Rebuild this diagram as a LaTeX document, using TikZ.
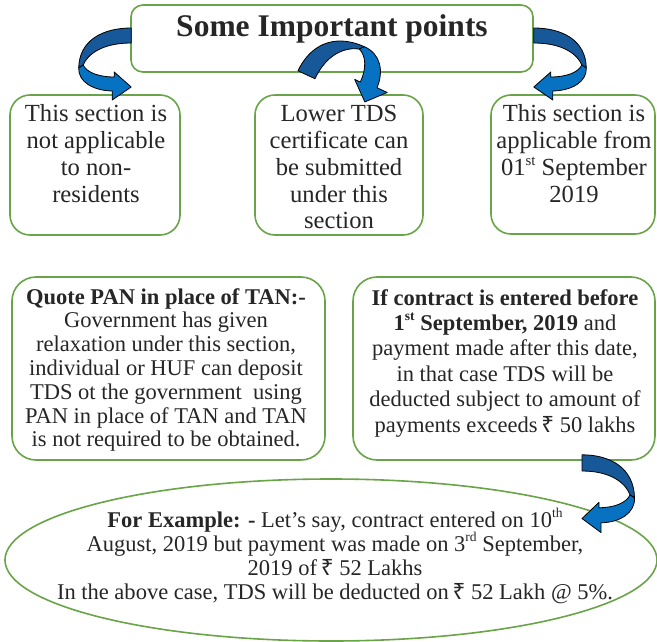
\documentclass[tikz,border=0pt]{standalone}
\usepackage{fontspec}
\usepackage{graphicx}
\setmainfont{Liberation Serif}
\newfontfamily\rupeefont{Noto Sans}
\usetikzlibrary{shapes.geometric,calc}

\definecolor{boxgreen}{RGB}{106,164,72}
\definecolor{arrowdark}{RGB}{22,88,152}
\definecolor{arrowlight}{RGB}{6,114,193}
\definecolor{ink}{RGB}{38,38,38}

% centred lines whose baseline is the first line
\newcommand\stacklines[1]{\vtop{\halign{\hfil##\hfil\cr#1\crcr}}}
\newcommand\sups[1]{\raisebox{.42em}{\scalebox{.6}{#1}}}
\newcommand\rupee{{\rupeefont\mdseries ₹}}

% ribbon arrow that bends round and points back (tail at origin)
\newcommand\bentarrow[1]{%
  \begin{scope}[#1]
    \path[backface] (0,0) .. controls (28,0) and (52,12) .. (52.5,40)
      -- (48,37) .. controls (44,27) and (30,15) .. (0,15) -- cycle;
    \path[frontface] (52.5,40) .. controls (53,54) and (38,62.5) .. (19,63)
      -- (19,72) -- (0,59) -- (17,44) -- (17,49)
      .. controls (33,49) and (45,44) .. (48,37) -- cycle;
  \end{scope}}

\tikzset{
  panel/.style={draw=boxgreen, line width=1.6bp, rounded corners=#1, fill=white, inner sep=0pt},
  panel/.default=20bp,
  txt/.style={inner sep=0pt, text=ink, anchor=base},
  topfont/.style={font=\fontsize{24.6bp}{26.7bp}\selectfont},
  backface/.style={fill=arrowdark, draw=black, line width=0.8bp, line join=round},
  frontface/.style={fill=arrowlight, draw=black, line width=0.8bp, line join=round},
}

\begin{document}
\begin{tikzpicture}[x=1bp, y=-1bp]
  \useasboundingbox (0,0) rectangle (657,642);
  \fill[white] (0,0) rectangle (657,642);

  % boxes
  \node[panel=12bp, minimum width=402bp, minimum height=67bp] (title) at (332,38.5) {};
  \node[panel=20bp, minimum width=170bp, minimum height=140bp] (b1) at (95,165) {};
  \node[panel=20bp, minimum width=168bp, minimum height=140bp] (b2) at (339,165) {};
  \node[panel=20bp, minimum width=164bp, minimum height=139bp] (b3) at (573,164.5) {};
  \node[panel=24bp, minimum width=313bp, minimum height=183bp] (pan) at (168.5,368.5) {};
  \node[panel=24bp, minimum width=302bp, minimum height=183bp] (contract) at (504,368.5) {};
  \node[ellipse, draw=boxgreen, line width=1.6bp, fill=white, inner sep=0pt,
        minimum width=652bp, minimum height=162bp] (example) at (331,560) {};

  % texts
  \node[txt, font=\fontsize{31.5bp}{34bp}\selectfont\bfseries] (titletext) at (332,37) {Some Important points};
  \node[txt, topfont] (t1) at (96,122) {\stacklines{This section is\cr not applicable\cr to non-\cr residents}};
  \node[txt, topfont] (t2) at (339,122) {\stacklines{Lower TDS\cr certificate can\cr be submitted\cr under this\cr section}};
  \node[txt, topfont] (t3) at (574,122) {\stacklines{This section is\cr applicable from\cr 01\sups{st} September\cr 2019}};
  \node[txt, font=\fontsize{22.5bp}{23.8bp}\selectfont] (pantext) at (166,304)
    {\stacklines{\bfseries Quote PAN in place of TAN:-\cr
      Government has given\cr
      relaxation under this section,\cr
      individual or HUF can deposit\cr
      TDS ot the government\ \ using\cr
      PAN in place of TAN and TAN\cr
      is not required to be obtained.}};
  \node[txt, font=\fontsize{22.5bp}{25.4bp}\selectfont] (contracttext) at (505,305)
    {\stacklines{\bfseries If contract is entered before\cr
      {\bfseries 1\sups{st} September, 2019} and\cr
      payment made after this date,\cr
      in that case TDS will be\cr
      deducted subject to amount of\cr
      payments exceeds\,\rupee\ 50 lakhs}};
  \node[txt, font=\fontsize{22.5bp}{24bp}\selectfont] (exampletext) at (335,527)
    {\stacklines{{\bfseries For Example: -} Let’s say, contract entered on 10\sups{th}\cr
      August, 2019 but payment was made on 3\sups{rd} September,\cr
      2019 of\,\rupee\ 52 Lakhs\cr
      In the above case, TDS will be deducted on\,\rupee\ 52 Lakh @ 5\%.}};

  % bent ribbon arrows
  \bentarrow{shift={($(title.west)+(1,-10.5)$)}, xscale=-1}
  \bentarrow{shift={($(title.south)+(-34,-2)$)}, rotate=65, xscale=0.95, yscale=1.25}
  \bentarrow{shift={($(title.east)+(0,-10.5)$)}}
  \bentarrow{shift={($(contract.south)+(78,-6)$)}, yscale=1.08}
\end{tikzpicture}
\end{document}
